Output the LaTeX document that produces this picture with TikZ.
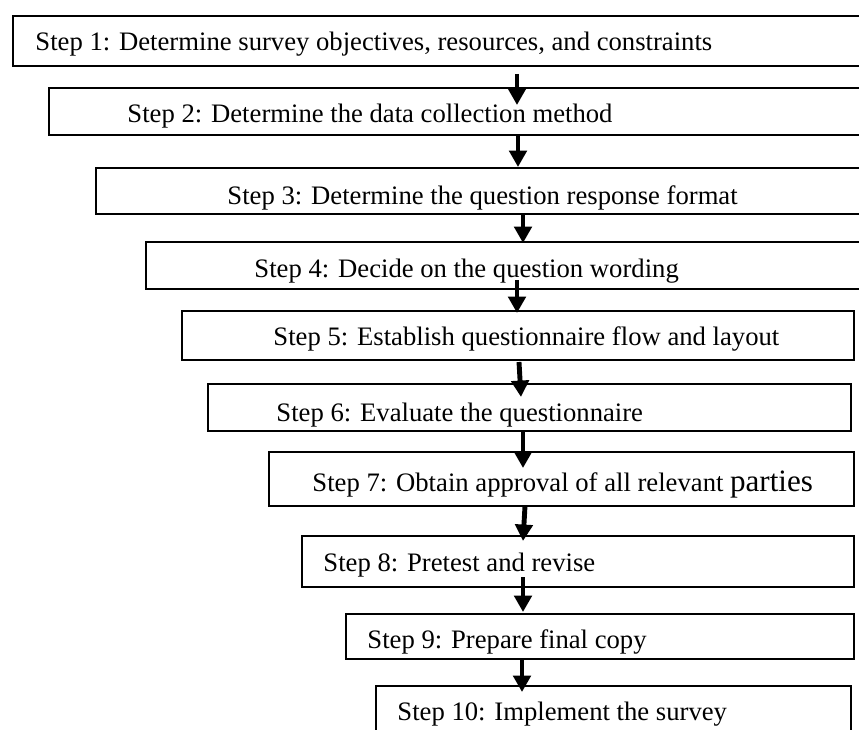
\documentclass[tikz,border=0pt]{standalone}
\usepackage{fontspec}
\setmainfont{Liberation Serif}
\usetikzlibrary{calc,arrows.meta,fit}

\begin{document}
\begin{tikzpicture}[x=0.45pt,y=-0.45pt,
    box/.style={draw,line width=0.75pt,inner sep=0pt,fill=none},
    steptext/.style={anchor=base west,inner sep=0pt,font=\fontsize{12}{14}\selectfont},
    flow/.style={line width=2.2pt,-{Triangle[length=7.4pt,width=7.8pt]}}]
    \clip (0,0) rectangle (859,729);
    \fill[white] (0,0) rectangle (859,729);
    \begin{scope}[shift={(0,0)}]
      % boxes
      \node[box,fit={(13,16) (900,66)}] (b1) {};
      \node[box,fit={(49,88) (900,135)}] (b2) {};
      \node[box,fit={(96,168) (900,214)}] (b3) {};
      \node[box,fit={(146,242) (900,289)}] (b4) {};
      \node[box,fit={(182,311) (854,360)}] (b5) {};
      \node[box,fit={(208,384) (851,431)}] (b6) {};
      \node[box,fit={(269,452) (854,506)}] (b7) {};
      \node[box,fit={(302,536) (854,587)}] (b8) {};
      \node[box,fit={(346,614) (854,659)}] (b9) {};
      \node[box,fit={(376,686) (851,760)}] (b10) {};
      % texts
      \node[steptext] (t1) at (35,51) {Step 1: Determine survey objectives, resources, and constraints};
      \node[steptext] (t2) at (127,123) {Step 2: Determine the data collection method};
      \node[steptext] (t3) at (227,204) {Step 3: Determine the question response format};
      \node[steptext] (t4) at (254,277) {Step 4: Decide on the question wording};
      \node[steptext] (t5) at (273,345) {Step 5: Establish questionnaire flow and layout};
      \node[steptext] (t6) at (276,421) {Step 6: Evaluate the questionnaire};
      \node[steptext] (t7) at (312,491) {Step 7: Obtain approval of all relevant {\fontsize{14}{16}\selectfont parties}};
      \node[steptext] (t8) at (323,571) {Step 8: Pretest and revise};
      \node[steptext] (t9) at (367,648) {Step 9: Prepare final copy};
      \node[steptext] (t10) at (397,720) {Step 10: Implement the survey};
      % arrow ends
      \coordinate (A1) at (517,74);  \coordinate (B1) at (517,105);
      \coordinate (A2) at (518,135); \coordinate (B2) at (518,167);
      \coordinate (A3) at (523,215); \coordinate (B3) at (523,243);
      \coordinate (A4) at (517,280); \coordinate (B4) at (517,313);
      \coordinate (A5) at (519,362); \coordinate (B5) at (521,397);
      \coordinate (A6) at (523,431); \coordinate (B6) at (523,468);
      \coordinate (A7) at (525,506); \coordinate (B7) at (523,541);
      \coordinate (A8) at (523,577); \coordinate (B8) at (523,612);
      \coordinate (A9) at (522,659); \coordinate (B9) at (522,692);
      \draw[flow] (A1)--(B1);
      \draw[flow] (A2)--(B2);
      \draw[flow] (A3)--(B3);
      \draw[flow] (A4)--(B4);
      \draw[flow] (A5)--(B5);
      \draw[flow] (A6)--(B6);
      \draw[flow] (A7)--(B7);
      \draw[flow] (A8)--(B8);
      \draw[flow] (A9)--(B9);
    \end{scope}
  \end{tikzpicture}
\end{document}
